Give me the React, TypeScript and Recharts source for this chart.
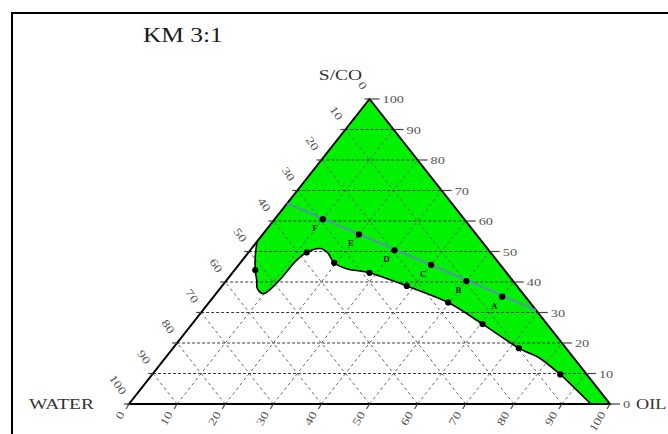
import React from 'react';
import { ComposedChart, XAxis, YAxis, Scatter } from 'recharts';

const W = 668;
const H = 434;
const MARGIN = { top: 99, right: 58, bottom: 30, left: 129 };
const FONT = '"Liberation Serif", "Times New Roman", serif';
const SX = 1.3;

const TITLE = 'KM 3:1';
const APEX_TOP = 'S/CO';
const APEX_LEFT = 'WATER';
const APEX_RIGHT = 'OIL';

const GRID_LEVELS = [10, 20, 30, 40, 50, 60, 70, 80, 90];
const AXIS_TICKS = [0, 10, 20, 30, 40, 50, 60, 70, 80, 90, 100];

// Binodal boundary (oil %, S/CO %), from the WATER–S/CO edge to the OIL axis
const boundaryOil = [0, 2.0, 4.3, 6.2, 7.8, 10.1, 11.0, 11.2, 12.1, 14.2, 16.7, 19.5, 23.5, 28.5, 38.4, 49.7, 60.4, 71.9, 77.9, 84.8, 89.5, 96];
const boundarySco = [53.2, 48.5, 43.9, 40.7, 37.8, 36.3, 40.7, 46.7, 49.7, 51.0, 49.4, 46.3, 44.2, 43.0, 38.7, 33.3, 26.2, 18.3, 15.0, 9.7, 5.7, 0];

// Titration points on the boundary
const binodalOil = [4.3, 12.1, 19.5, 28.5, 38.4, 49.7, 60.4, 71.9, 84.8];
const binodalSco = [43.9, 49.7, 46.3, 43.0, 38.7, 33.3, 26.2, 18.3, 9.7];

// Dilution line and formulations
const dilutionLabels = ['F', 'E', 'D', 'C', 'B', 'A'];
const dilutionOil = [10, 20, 30, 40, 50, 60];
const dilutionSco = [60.6, 55.6, 50.4, 45.6, 40.3, 35.2];
const dilutionEndsOil = [0, 69.2];
const dilutionEndsSco = [65.8, 30.8];

type P = { x: number; y: number };
const tern = (oil: number, sco: number) => ({ x: oil + sco / 2, y: sco });

function smooth(pts: P[]): string {
  if (!pts.length) return '';
  let d = `M${pts[0].x},${pts[0].y}`;
  for (let i = 0; i < pts.length - 1; i++) {
    const p0 = pts[i - 1] || pts[i];
    const p1 = pts[i];
    const p2 = pts[i + 1];
    const p3 = pts[i + 2] || p2;
    const c1x = p1.x + (p2.x - p0.x) / 6;
    const c1y = p1.y + (p2.y - p0.y) / 6;
    const c2x = p2.x - (p3.x - p1.x) / 6;
    const c2y = p2.y - (p3.y - p1.y) / 6;
    d += ` C${c1x},${c1y} ${c2x},${c2y} ${p2.x},${p2.y}`;
  }
  return d;
}

const boundaryData = boundaryOil.map((o, i) => tern(o, boundarySco[i]));
const regionData = [...boundaryData, tern(100, 0), tern(0, 100)];
const N_CURVE = boundaryData.length;

const gridH = GRID_LEVELS.flatMap((k) => [tern(0, k), tern(100 - k, k)]);
const gridD = GRID_LEVELS.flatMap((k) => [tern(k, 0), tern(k, 100 - k), tern(100 - k, 0), tern(0, 100 - k)]);

const triangleData = [
  { ...tern(0, 0), apex: 'left' },
  { ...tern(100, 0), apex: 'right' },
  { ...tern(0, 100), apex: 'top' },
];

const rightTicks = AXIS_TICKS.map((t) => ({ ...tern(100 - t, t), label: String(t) }));
const leftTicks = AXIS_TICKS.map((t) => ({ ...tern(0, 100 - t), label: String(t) }));
const bottomTicks = AXIS_TICKS.map((t) => ({ ...tern(t, 0), label: String(t) }));

const binodalData = binodalOil.map((o, i) => tern(o, binodalSco[i]));
const dilutionData = dilutionOil.map((o, i) => ({ ...tern(o, dilutionSco[i]), label: dilutionLabels[i] }));
const dilutionLine = dilutionEndsOil.map((o, i) => tern(o, dilutionEndsSco[i]));

const None = () => <g />;

const SText = ({ x, y, anchor = 'start', size, fill = '#222', weight = 'normal', rotate = 0, sx = SX, children }: any) => (
  <text
    transform={`translate(${x},${y}) rotate(${rotate}) scale(${sx},1)`}
    textAnchor={anchor}
    fontSize={size}
    fontFamily={FONT}
    fill={fill}
    fontWeight={weight}
  >
    {children}
  </text>
);

const segments = (stroke: string, dash: string, width: number) => (props: any) => {
  const pts: P[] = props.points || [];
  let d = '';
  for (let i = 0; i + 1 < pts.length; i += 2) d += `M${pts[i].x},${pts[i].y}L${pts[i + 1].x},${pts[i + 1].y}`;
  return <path d={d} fill="none" stroke={stroke} strokeWidth={width} strokeDasharray={dash} />;
};

const regionLine = (props: any) => {
  const pts: P[] = props.points || [];
  const curve = pts.slice(0, N_CURVE);
  const corners = pts.slice(N_CURVE);
  const d = smooth(curve) + corners.map((c) => ` L${c.x},${c.y}`).join('') + ' Z';
  return <path d={d} fill="#00f200" stroke="none" />;
};

const boundaryLine = (props: any) => (
  <path d={smooth(props.points || [])} fill="none" stroke="#000" strokeWidth={1.6} />
);

const triangleLine = (props: any) => {
  const pts: P[] = props.points || [];
  const d = pts.map((p, i) => `${i ? 'L' : 'M'}${p.x},${p.y}`).join(' ') + ' Z';
  return <path d={d} fill="none" stroke="#000" strokeWidth={2} strokeLinejoin="miter" />;
};

const apexShape = (p: any) => {
  const { cx, cy, payload } = p;
  if (payload.apex === 'top')
    return <SText x={cx - 29} y={cy - 19} anchor="middle" size={15} fill="#333">{APEX_TOP}</SText>;
  if (payload.apex === 'left')
    return <SText x={cx - 35} y={cy + 4.5} anchor="end" size={15} fill="#333">{APEX_LEFT}</SText>;
  return <SText x={cx + 26} y={cy + 4.5} anchor="start" size={14} fill="#333">{APEX_RIGHT}</SText>;
};

const rightTickShape = (p: any) => {
  const { cx, cy, payload } = p;
  return (
    <g>
      <line x1={cx} y1={cy} x2={cx + 10} y2={cy} stroke="#444" strokeWidth={1.2} />
      <SText x={cx + 13} y={cy + 4} size={11} fill="#555">{payload.label}</SText>
    </g>
  );
};

const leftTickShape = (p: any) => {
  const { cx, cy, payload } = p;
  return (
    <g>
      <line x1={cx} y1={cy} x2={cx - 5} y2={cy} stroke="#444" strokeWidth={1.2} />
      <SText x={cx - 8} y={cy - 8.5} anchor="end" rotate={55} size={11} fill="#555">{payload.label}</SText>
    </g>
  );
};

const bottomTickShape = (p: any) => {
  const { cx, cy, payload } = p;
  return (
    <g>
      <line x1={cx} y1={cy} x2={cx - 3} y2={cy + 5} stroke="#444" strokeWidth={1.2} />
      <SText x={cx - 4} y={cy + 10} anchor="end" rotate={-60} size={11} fill="#555">{payload.label}</SText>
    </g>
  );
};

const dotShape = (p: any) => <circle cx={p.cx} cy={p.cy} r={3.1} fill="#000" />;

const dilutionShape = (p: any) => (
  <g>
    <circle cx={p.cx} cy={p.cy} r={3.1} fill="#000" />
    <SText x={p.cx - 8} y={p.cy + 12} anchor="middle" size={8} weight="bold" fill="#222" sx={1.1}>
      {p.payload.label}
    </SText>
  </g>
);

const dilutionLineShape = (props: any) => {
  const pts: P[] = props.points || [];
  if (pts.length < 2) return <g />;
  return <path d={`M${pts[0].x},${pts[0].y}L${pts[1].x},${pts[1].y}`} stroke="#5a8fb0" strokeWidth={2} fill="none" />;
};

export default function App() {
  return (
    <div style={{ position: 'fixed', left: 0, top: 0, width: W, height: H, overflow: 'hidden', background: '#fff' }}>
      <div
        style={{
          position: 'absolute',
          left: 11,
          top: 12,
          width: 700,
          height: 500,
          border: '2px solid #000',
          boxSizing: 'border-box',
        }}
      />
      <svg style={{ position: 'absolute', left: 0, top: 0 }} width={W} height={60}>
        <SText x={143} y={42} size={20} fill="#1a1a1a" sx={1.27}>{TITLE}</SText>
      </svg>
      <div style={{ position: 'absolute', left: 0, top: 0 }}>
        <ComposedChart width={W} height={H} margin={MARGIN}>
          <XAxis type="number" dataKey="x" domain={[0, 100]} hide />
          <YAxis type="number" dataKey="y" domain={[0, 100]} hide />
          <Scatter data={regionData} shape={None} line={regionLine} isAnimationActive={false} />
          <Scatter data={gridD} shape={None} line={segments('#666', '3 3', 1)} isAnimationActive={false} />
          <Scatter data={gridH} shape={None} line={segments('#3a3a3a', '3 2', 1)} isAnimationActive={false} />
          <Scatter data={boundaryData} shape={None} line={boundaryLine} isAnimationActive={false} />
          <Scatter data={triangleData} shape={apexShape} line={triangleLine} isAnimationActive={false} />
          <Scatter data={rightTicks} shape={rightTickShape} isAnimationActive={false} />
          <Scatter data={leftTicks} shape={leftTickShape} isAnimationActive={false} />
          <Scatter data={bottomTicks} shape={bottomTickShape} isAnimationActive={false} />
          <Scatter data={dilutionLine} shape={None} line={dilutionLineShape} isAnimationActive={false} />
          <Scatter data={binodalData} shape={dotShape} isAnimationActive={false} />
          <Scatter data={dilutionData} shape={dilutionShape} isAnimationActive={false} />
        </ComposedChart>
      </div>
    </div>
  );
}
